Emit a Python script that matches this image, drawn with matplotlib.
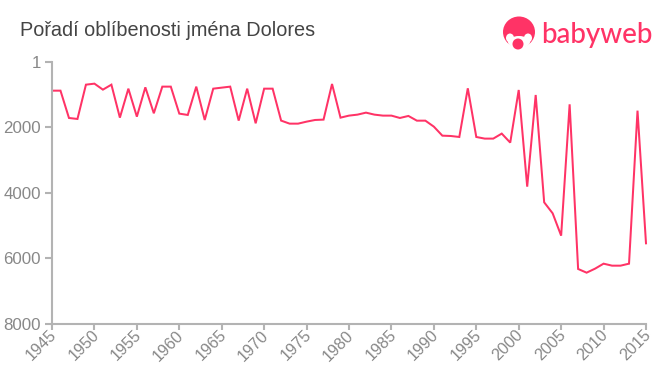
import matplotlib
matplotlib.use("Agg")
import matplotlib.pyplot as plt
from matplotlib.patches import Circle, Ellipse
from matplotlib.transforms import ScaledTranslation

plt.rcParams['font.family'] = ['Liberation Sans', 'DejaVu Sans']

years = list(range(1945, 2016))
ranks = [876, 876, 1710, 1740, 693, 662, 845, 693, 1700, 815,
         1670, 774, 1567, 753, 753, 1577, 1618, 753, 1771, 815,
         784, 753, 1790, 815, 1873, 815, 815, 1790, 1883, 1883,
         1822, 1771, 1760, 672, 1700, 1638, 1608, 1547, 1608, 1638,
         1638, 1710, 1648, 1792, 1792, 1975, 2250, 2260, 2290, 804,
         2290, 2340, 2340, 2187, 2462, 855, 3807, 1008, 4285, 4621,
         5303, 1293, 6320, 6433, 6310, 6158, 6219, 6219, 6158, 1486,
         5537]
x_ticks = list(range(1945, 2016, 5))
y_ticks = [1, 2000, 4000, 6000, 8000]
title = "Pořadí oblíbenosti jména Dolores"
brand = "babyweb"

W, H = 660, 375
PINK = '#ff3366'
GREY = '#b3b3b3'
fig = plt.figure(figsize=(W / 100, H / 100), dpi=100)
ax = fig.add_axes([52 / W, 1 - 324 / H, (646 - 52) / W, (324 - 62) / H])
ax.plot(years, ranks, color=PINK, lw=1.45, solid_joinstyle='miter', clip_on=False)
ax.set_xlim(1945, 2015)
ax.set_ylim(8000, 1)
ax.set_xticks(x_ticks)
ax.set_yticks(y_ticks)
ax.set_xticklabels(x_ticks, rotation=45, ha='right', rotation_mode='anchor')
ax.tick_params(colors=GREY, width=1.5, length=5, labelcolor='#888888', labelsize=12.2, pad=3)
ax.tick_params(axis='x', labelsize=11.6, length=4, pad=0)
offset = ScaledTranslation(-3 / 100, 2 / 100, fig.dpi_scale_trans)
for lab in ax.get_xticklabels():
    lab.set_transform(lab.get_transform() + offset)
for s in ('top', 'right'):
    ax.spines[s].set_visible(False)
for s in ('left', 'bottom'):
    ax.spines[s].set_color(GREY)
    ax.spines[s].set_linewidth(1.5)

fig.text(20 / W, 1 - 30 / H, title, fontsize=14.3, color='#444444', va='center', ha='left')

# logo
logo = fig.add_axes([0, 0, 1, 1], facecolor='none')
logo.set_xlim(0, W)
logo.set_ylim(H, 0)
logo.axis('off')
logo.add_patch(Ellipse((519, 32), 32, 31, color=PINK, lw=0))
logo.add_patch(Ellipse((510, 38), 8, 9, color='white', lw=0))
logo.add_patch(Ellipse((528, 38), 8, 9, color='white', lw=0))
logo.add_patch(Ellipse((519, 42), 22, 12, color='white', lw=0))
logo.add_patch(Circle((518, 44), 5.5, color=PINK, lw=0))
logo.text(541, 43, brand, fontsize=20, color=PINK, family=['Lato', 'DejaVu Sans'],
          fontweight='medium', va='baseline', ha='left')

fig.savefig('out.png', dpi=100)
